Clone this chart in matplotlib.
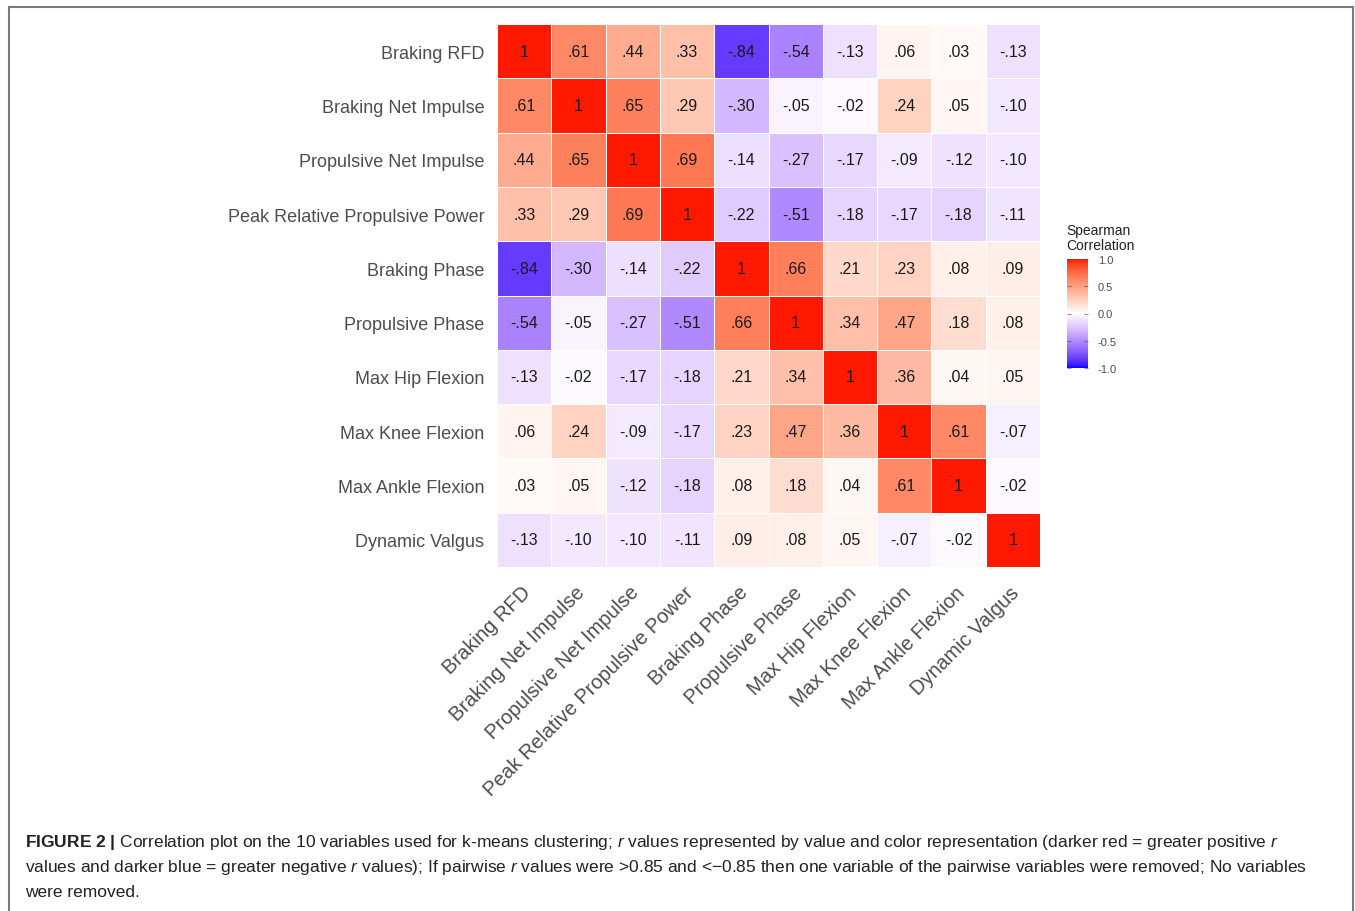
import numpy as np
import matplotlib as mpl
mpl.use('Agg')
import matplotlib.pyplot as plt
from matplotlib import font_manager
from matplotlib.colors import ListedColormap
from matplotlib.lines import Line2D
from matplotlib.transforms import ScaledTranslation

variables = ['Braking RFD', 'Braking Net Impulse', 'Propulsive Net Impulse',
             'Peak Relative Propulsive Power', 'Braking Phase', 'Propulsive Phase',
             'Max Hip Flexion', 'Max Knee Flexion', 'Max Ankle Flexion', 'Dynamic Valgus']

corr = [
    [1, .61, .44, .33, -.84, -.54, -.13, .06, .03, -.13],
    [.61, 1, .65, .29, -.30, -.05, -.02, .24, .05, -.10],
    [.44, .65, 1, .69, -.14, -.27, -.17, -.09, -.12, -.10],
    [.33, .29, .69, 1, -.22, -.51, -.18, -.17, -.18, -.11],
    [-.84, -.30, -.14, -.22, 1, .66, .21, .23, .08, .09],
    [-.54, -.05, -.27, -.51, .66, 1, .34, .47, .18, .08],
    [-.13, -.02, -.17, -.18, .21, .34, 1, .36, .04, .05],
    [.06, .24, -.09, -.17, .23, .47, .36, 1, .61, -.07],
    [.03, .05, -.12, -.18, .08, .18, .04, .61, 1, -.02],
    [-.13, -.10, -.10, -.11, .09, .08, .05, -.07, -.02, 1],
]

legend_ticks = [1.0, 0.5, 0.0, -0.5, -1.0]


# --- Lab interpolation (like ggplot's scale_fill_gradient2) ---
M = np.array([[0.4124, 0.3576, 0.1805],
              [0.2126, 0.7152, 0.0722],
              [0.0193, 0.1192, 0.9505]])
WHITE = np.array([0.95047, 1.0, 1.08883])


def to_lab(rgb):
    c = np.asarray(rgb, float)
    lin = np.where(c <= 0.04045, c / 12.92, ((c + 0.055) / 1.055) ** 2.4)
    xyz = M @ lin / WHITE
    f = np.where(xyz > 0.008856, np.cbrt(xyz), 7.787 * xyz + 16 / 116)
    return np.array([116 * f[1] - 16, 500 * (f[0] - f[1]), 200 * (f[1] - f[2])])


def from_lab(lab):
    L, a, b = lab
    fy = (L + 16) / 116
    f = np.array([fy + a / 500, fy, fy - b / 200])
    xyz = np.where(f ** 3 > 0.008856, f ** 3, (f - 16 / 116) / 7.787) * WHITE
    lin = np.linalg.solve(M, xyz)
    lin = np.clip(lin, 0, 1)
    c = np.where(lin <= 0.0031308, 12.92 * lin, 1.055 * lin ** (1 / 2.4) - 0.055)
    return np.clip(c, 0, 1)


low, mid, high = to_lab([0, 0, 1]), to_lab([1, 1, 1]), to_lab([1, 0.1, 0])
cols = []
for t in np.linspace(-1, 1, 256):
    if t < 0:
        lab = mid + (low - mid) * (-t)
    else:
        lab = mid + (high - mid) * t
    cols.append(from_lab(lab))
cmap = ListedColormap(cols)


def fmt(v):
    if v == 1:
        return '1'
    s = '%.2f' % v
    return s.replace('0.', '.')


plt.rcParams['font.family'] = ['Liberation Sans', 'DejaVu Sans']

W, H = 1355, 912
fig = plt.figure(figsize=(W / 100, H / 100), dpi=100)
fig.patch.set_facecolor('white')

# frame around the figure panel
frame = dict(color='#7a7a7a', lw=1.5, transform=None)
fig.add_artist(Line2D([9, 1353], [H - 8, H - 8], **frame))
fig.add_artist(Line2D([9, 9], [H - 8, 0], **frame))
fig.add_artist(Line2D([1353, 1353], [H - 8, 0], **frame))

ax = fig.add_axes([497 / W, 1 - 568 / H, 543 / W, 543 / H])
data = np.array(corr)
n = len(variables)
ax.pcolormesh(np.arange(n + 1), np.arange(n + 1), data, cmap=cmap, vmin=-1, vmax=1,
              edgecolors='white', linewidth=0.6)
ax.set_xlim(0, n)
ax.set_ylim(n, 0)
for i in range(n):
    for j in range(n):
        ax.text(j + 0.5, i + 0.5, fmt(data[i, j]), ha='center', va='center',
                fontsize=11.5, color='#1a1a1a')

for s in ax.spines.values():
    s.set_visible(False)
ax.set_yticks(np.arange(n) + 0.5)
ax.set_yticklabels(variables, fontsize=13, color='#4d4d4d')
ax.set_xticks(np.arange(n) + 0.5)
ax.set_xticklabels(variables, fontsize=14.5, color='#4d4d4d', rotation=45,
                   ha='right', va='top', rotation_mode='anchor')
ax.tick_params(length=0)
ax.tick_params(axis='y', pad=9)
ax.tick_params(axis='x', pad=11)
for lab in ax.get_xticklabels():
    lab.set_transform(lab.get_transform() + ScaledTranslation(-0.03, 0, fig.dpi_scale_trans))

# legend colorbar
cax = fig.add_axes([1067 / W, 1 - 369 / H, 21 / W, 109 / H])
sm = mpl.cm.ScalarMappable(norm=mpl.colors.Normalize(-1, 1), cmap=cmap)
cb = fig.colorbar(sm, cax=cax, ticks=legend_ticks)
cb.outline.set_visible(False)
cb.ax.set_yticklabels(['%.1f' % t for t in legend_ticks])
cb.ax.tick_params(labelsize=8, colors='#4d4d4d', direction='in', length=3,
                  left=True, right=True, pad=7)
for t in cb.ax.yaxis.get_ticklines():
    t.set_color('#ffffff')
    t.set_alpha(0.6)
fig.text(1066 / W, 1 - 224 / H, 'Spearman\nCorrelation', fontsize=10, color='#222222',
         ha='left', va='top', linespacing=1.05)

# caption
try:
    font_manager.findfont('Liberation Sans Narrow', fallback_to_default=False)
    cap_family = 'Liberation Sans Narrow'
except Exception:
    cap_family = 'Liberation Sans'
plt.rcParams['mathtext.fontset'] = 'custom'
plt.rcParams['mathtext.rm'] = cap_family
plt.rcParams['mathtext.it'] = cap_family + ':italic'
plt.rcParams['mathtext.bf'] = cap_family + ':bold'

lines = [
    r'$\mathbf{FIGURE\ 2\ |}$ Correlation plot on the 10 variables used for k-means clustering; '
    r'$\mathit{r}$ values represented by value and color representation (darker red = greater positive $\mathit{r}$',
    r'values and darker blue = greater negative $\mathit{r}$ values); If pairwise $\mathit{r}$ '
    r'values were >0.85 and <−0.85 then one variable of the pairwise variables were removed; No variables',
    'were removed.',
]
ys = [843, 868, 893]
texts = [fig.text(25 / W, 1 - y / H, s, fontsize=13, family=[cap_family, 'DejaVu Sans'],
                  color='#222222', ha='left', va='center') for s, y in zip(lines, ys)]
r = fig.canvas.get_renderer()
w = texts[0].get_window_extent(r).width
scale = 1255 / w
for t in texts:
    t.set_fontsize(13 * scale)

fig.savefig('out.png', dpi=100)
